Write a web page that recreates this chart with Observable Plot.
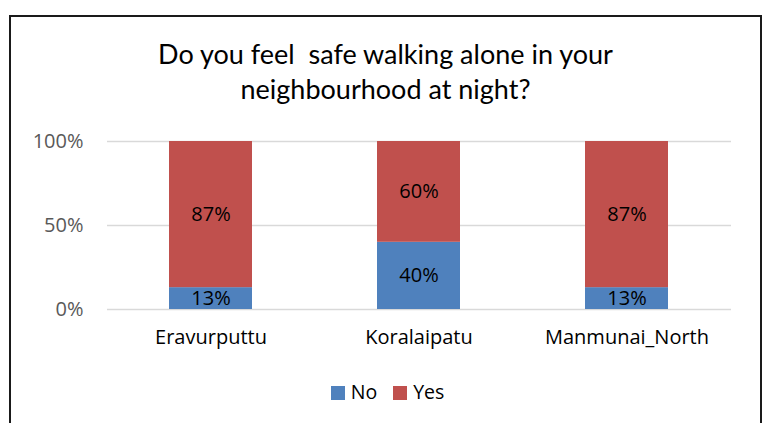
<!DOCTYPE html>
<html><head><meta charset="utf-8">
<script src="https://cdn.jsdelivr.net/npm/d3@7"></script>
<script src="https://cdn.jsdelivr.net/npm/@observablehq/plot@0.6"></script>
<style>
body{margin:0;background:#fff;font-family:"Open Sans",sans-serif;}
#wrap{position:absolute;left:9px;top:15px;width:749px;height:420px;border:2px solid #1a1a1a;box-sizing:content-box;}
#title{height:103px;text-align:center;font-family:Lato,sans-serif;font-size:27px;line-height:35px;color:#000;box-sizing:border-box;padding-top:19px;}
#legend{display:flex;justify-content:center;gap:16px;font-size:19.5px;color:#000;margin-top:8px;margin-left:4px;}
#legend span.sw{display:inline-block;width:14px;height:14px;margin-right:6px;vertical-align:-1px;}
</style></head><body>
<div id="wrap">
  <div id="title"><div>Do you feel&nbsp; safe walking alone in your</div><div>neighbourhood at night?</div></div>
  <div id="chart"></div>
  <div id="legend"></div>
</div>
<script>
const regions = ["Eravurputtu", "Koralaipatu", "Manmunai_North"];
const answers = ["No", "Yes"];
const noValues = [0.13, 0.40, 0.13];
const yesValues = [0.87, 0.60, 0.87];
const colors = ["#4f81bd", "#c0504d"];
const yTicks = [0, 0.5, 1];

const data = [];
regions.forEach((r, i) => {
  data.push({region: r, answer: "No", value: noValues[i]});
  data.push({region: r, answer: "Yes", value: yesValues[i]});
});

const chart = Plot.plot({
  width: 749,
  height: 250,
  marginLeft: 96,
  marginRight: 29,
  marginTop: 21,
  marginBottom: 61,
  style: {fontFamily: "'Open Sans', sans-serif", fontSize: "20px", background: "transparent"},
  x: {domain: regions, label: null, paddingInner: 0.6, paddingOuter: 0.3},
  y: {domain: [0, 1], label: null},
  color: {domain: answers, range: colors},
  marks: [
    Plot.gridY(yTicks, {stroke: "#d9d9d9", strokeOpacity: 1, strokeWidth: 1.5}),
    Plot.barY(data, Plot.stackY({x: "region", y: "value", fill: "answer"})),
    Plot.text(data, Plot.stackY({x: "region", y: "value", z: "answer", text: d => d3.format(".0%")(d.value), fill: "#000", fontSize: 20})),
    Plot.axisY({ticks: yTicks, tickFormat: d3.format(".0%"), tickSize: 0, tickPadding: 24, fill: "#595959", fontSize: 20, label: null}),
    Plot.axisX({tickSize: 0, tickPadding: 20, fill: "#000", fontSize: 20, label: null})
  ]
});
document.getElementById("chart").appendChild(chart);

const legend = document.getElementById("legend");
answers.forEach((a, i) => {
  const item = document.createElement("div");
  item.innerHTML = `<span class="sw" style="background:${colors[i]}"></span>${a}`;
  legend.appendChild(item);
});
</script>
</body></html>
